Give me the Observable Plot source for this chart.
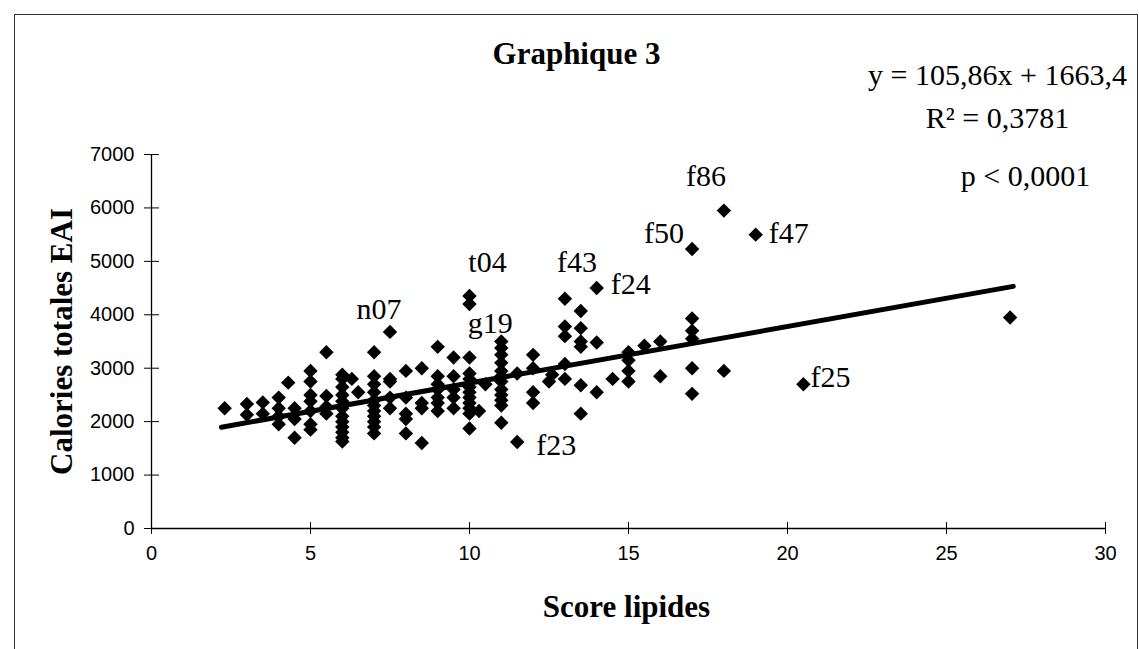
<!DOCTYPE html>
<html><head><meta charset="utf-8">
<script src="https://cdn.jsdelivr.net/npm/d3@7"></script>
<script src="https://cdn.jsdelivr.net/npm/@observablehq/plot@0.6"></script>
<style>
body{margin:0;background:#fff;}
#wrap{position:relative;width:1139px;height:649px;overflow:hidden;}
#border{position:absolute;left:14px;top:14px;width:1122px;height:640px;border:1.5px solid #333;pointer-events:none;}
svg{position:absolute;left:0;top:0;}
</style></head><body><div id="wrap"><div id="border"></div></div>
<script>
// Score lipides (x) and Calories totales EAI (y)
const scoreLipides = [
  2.3,
  3.0,3.0,
  3.5,3.5,
  4.0,4.0,4.0,4.0,
  4.3,
  4.5,4.5,4.5,
  5.0,5.0,5.0,5.0,5.0,5.0,5.0,
  5.5,5.5,5.5,5.5,
  6.0,6.0,6.0,6.0,6.0,6.0,6.0,6.0,6.0,6.0,6.0,6.0,
  6.3,6.5,
  7.0,7.0,7.0,7.0,7.0,7.0,7.0,7.0,7.0,7.0,7.0,
  7.5,7.5,7.5,7.5,7.5,
  8.0,8.0,8.0,8.0,8.0,
  8.5,8.5,8.5,8.5,
  9.0,9.0,9.0,9.0,9.0,9.0,9.0,
  9.5,9.5,9.5,9.5,9.5,
  10.0,10.0,10.0,10.0,10.0,10.0,10.0,10.0,10.0,10.0,10.0,10.0,
  10.3,10.5,
  11.0,11.0,11.0,11.0,11.0,11.0,11.0,11.0,11.0,11.0,11.0,11.0,
  11.5,11.5,
  12.0,12.0,12.0,12.0,
  12.5,12.6,
  13.0,13.0,13.0,13.0,13.0,
  13.5,13.5,13.5,13.5,13.5,13.5,
  14.0,14.0,14.0,
  14.5,
  15.0,15.0,15.0,15.0,
  15.5,
  16.0,16.0,
  17.0,17.0,17.0,17.0,17.0,17.0,
  18.0,18.0,
  19.0,
  20.5,
  27.0
];
const caloriesEAI = [
  2250,
  2330,2130,
  2360,2150,
  2450,2250,2100,1950,
  2730,
  2250,2050,1700,
  2950,2750,2500,2380,2200,1950,1850,
  3300,2480,2280,2150,
  2880,2800,2650,2500,2380,2250,2100,2000,1900,1800,1700,1630,
  2800,2550,
  3300,2850,2700,2550,2400,2300,2200,2100,2000,1900,1780,
  3680,2800,2750,2450,2250,
  2950,2450,2150,2050,1780,
  3000,2350,2250,1600,
  3400,2850,2700,2600,2450,2350,2200,
  3200,2850,2600,2450,2250,
  4350,4200,3200,2900,2800,2650,2550,2450,2350,2250,2150,1870,
  2200,2700,
  3500,3380,3250,3100,2950,2850,2750,2600,2500,2400,2300,1980,
  2900,1620,
  3250,3000,2550,2350,
  2750,2880,
  4300,3780,3600,3080,2800,
  4070,3750,3500,3400,2680,2150,
  4500,3480,2550,
  2800,
  3300,3150,2950,2750,
  3420,
  3500,2850,
  5230,3930,3700,3550,3000,2520,
  5950,2950,
  5500,
  2700,
  3950
];
// Trend line endpoints (y = 105,86x + 1663,4)
const trendX = [2.2, 27.1];
const trendY = [1896, 4532];
// Point labels
const labelNames = ["n07","t04","g19","f43","f24","f50","f86","f47","f25","f23"];
const labelX = [7.5,10.0,11.0,13.0,14.0,17.0,18.0,19.0,20.5,11.5];
const labelY = [3680,4350,3500,4300,4500,5230,5950,5500,2700,1620];
// Axis ticks
const xTicks = [0,5,10,15,20,25,30];
const yTicks = [0,1000,2000,3000,4000,5000,6000,7000];
// Texts
const titleText = "Graphique 3";
const eqText = "y = 105,86x + 1663,4";
const r2Text = "R² = 0,3781";
const pText = "p < 0,0001";
const xLabel = "Score lipides";
const yLabel = "Calories totales EAI";

const serif = "'Liberation Serif','Times New Roman',serif";
const sans = "'Liberation Sans',Arial,sans-serif";
const labelStyle = {
  n07:{dx:-11,dy:-22,anchor:"middle"},
  t04:{dx:18,dy:-34,anchor:"middle"},
  g19:{dx:-11,dy:-18,anchor:"middle"},
  f43:{dx:12,dy:-36,anchor:"middle"},
  f24:{dx:14,dy:-4,anchor:"start"},
  f50:{dx:-8,dy:-16,anchor:"end"},
  f86:{dx:-18,dy:-34,anchor:"middle"},
  f47:{dx:13,dy:-1,anchor:"start"},
  f25:{dx:7,dy:-7,anchor:"start"},
  f23:{dx:19,dy:3,anchor:"start"}
};

const idx = d3.range(scoreLipides.length);
const trend = trendX.map((x,i)=>({x, y: trendY[i]}));

const labelMarks = labelNames.map((n,i)=>Plot.text([i], {
  x: j=>labelX[j], y: j=>labelY[j], text: j=>labelNames[j],
  dx: labelStyle[n].dx, dy: labelStyle[n].dy,
  textAnchor: labelStyle[n].anchor, lineAnchor: "middle",
  fontFamily: serif, fontSize: 30, fill: "#000"
}));

const plot = Plot.plot({
  width: 1139, height: 649,
  marginLeft: 151, marginRight: 34, marginTop: 154, marginBottom: 121,
  x: {domain: [0,30]},
  y: {domain: [0,7000]},
  style: {background: "transparent", fontFamily: sans, fontSize: "20px", color: "#000", overflow: "visible"},
  marks: [
    Plot.axisX({ticks: xTicks, tickSize: 12, dy: -6, tickFormat: ()=>"", label: null, stroke: "#000", strokeWidth: 1}),
    Plot.axisX({ticks: xTicks, tickSize: 0, tickPadding: 17, tickFormat: d=>String(d), label: null, fontSize: 20, fontFamily: sans, fill: "#000"}),
    Plot.axisY({ticks: yTicks, tickSize: 15, dx: 8, tickFormat: ()=>"", label: null, stroke: "#000", strokeWidth: 1}),
    Plot.axisY({ticks: yTicks, tickSize: 0, tickPadding: 17, tickFormat: d=>String(d), label: null, fontSize: 20, fontFamily: sans, fill: "#000"}),
    Plot.ruleX([0], {stroke: "#000", strokeWidth: 1.3}),
    Plot.ruleY([0], {stroke: "#000", strokeWidth: 1.3}),
    Plot.dot(idx, {x: i=>scoreLipides[i], y: i=>caloriesEAI[i], symbol: "diamond2", r: 6.5, fill: "#000", stroke: "none"}),
    Plot.line(trend, {x: "x", y: "y", stroke: "#000", strokeWidth: 5}),
    ...labelMarks,
    Plot.text([titleText], {text: d=>d, frameAnchor: "top", dx: -52, dy: -100, textAnchor: "middle", lineAnchor: "middle", fontFamily: serif, fontWeight: "bold", fontSize: 31, fill: "#000"}),
    Plot.text([eqText], {text: d=>d, frameAnchor: "top-right", dx: -108, dy: -79, textAnchor: "middle", lineAnchor: "middle", fontFamily: serif, fontSize: 30, fill: "#000"}),
    Plot.text([r2Text], {text: d=>d, frameAnchor: "top-right", dx: -108, dy: -36, textAnchor: "middle", lineAnchor: "middle", fontFamily: serif, fontSize: 30, fill: "#000"}),
    Plot.text([pText], {text: d=>d, frameAnchor: "top-right", dx: -80, dy: 22, textAnchor: "middle", lineAnchor: "middle", fontFamily: serif, fontSize: 30, fill: "#000"}),
    Plot.text([xLabel], {text: d=>d, frameAnchor: "bottom", dx: -2, dy: 79, textAnchor: "middle", lineAnchor: "middle", fontFamily: serif, fontWeight: "bold", fontSize: 31, fill: "#000"}),
    Plot.text([yLabel], {text: d=>d, frameAnchor: "left", dx: -89, rotate: -90, textAnchor: "middle", lineAnchor: "middle", fontFamily: serif, fontWeight: "bold", fontSize: 31, fill: "#000"})
  ]
});
document.getElementById("wrap").appendChild(plot);
</script>
</body></html>
